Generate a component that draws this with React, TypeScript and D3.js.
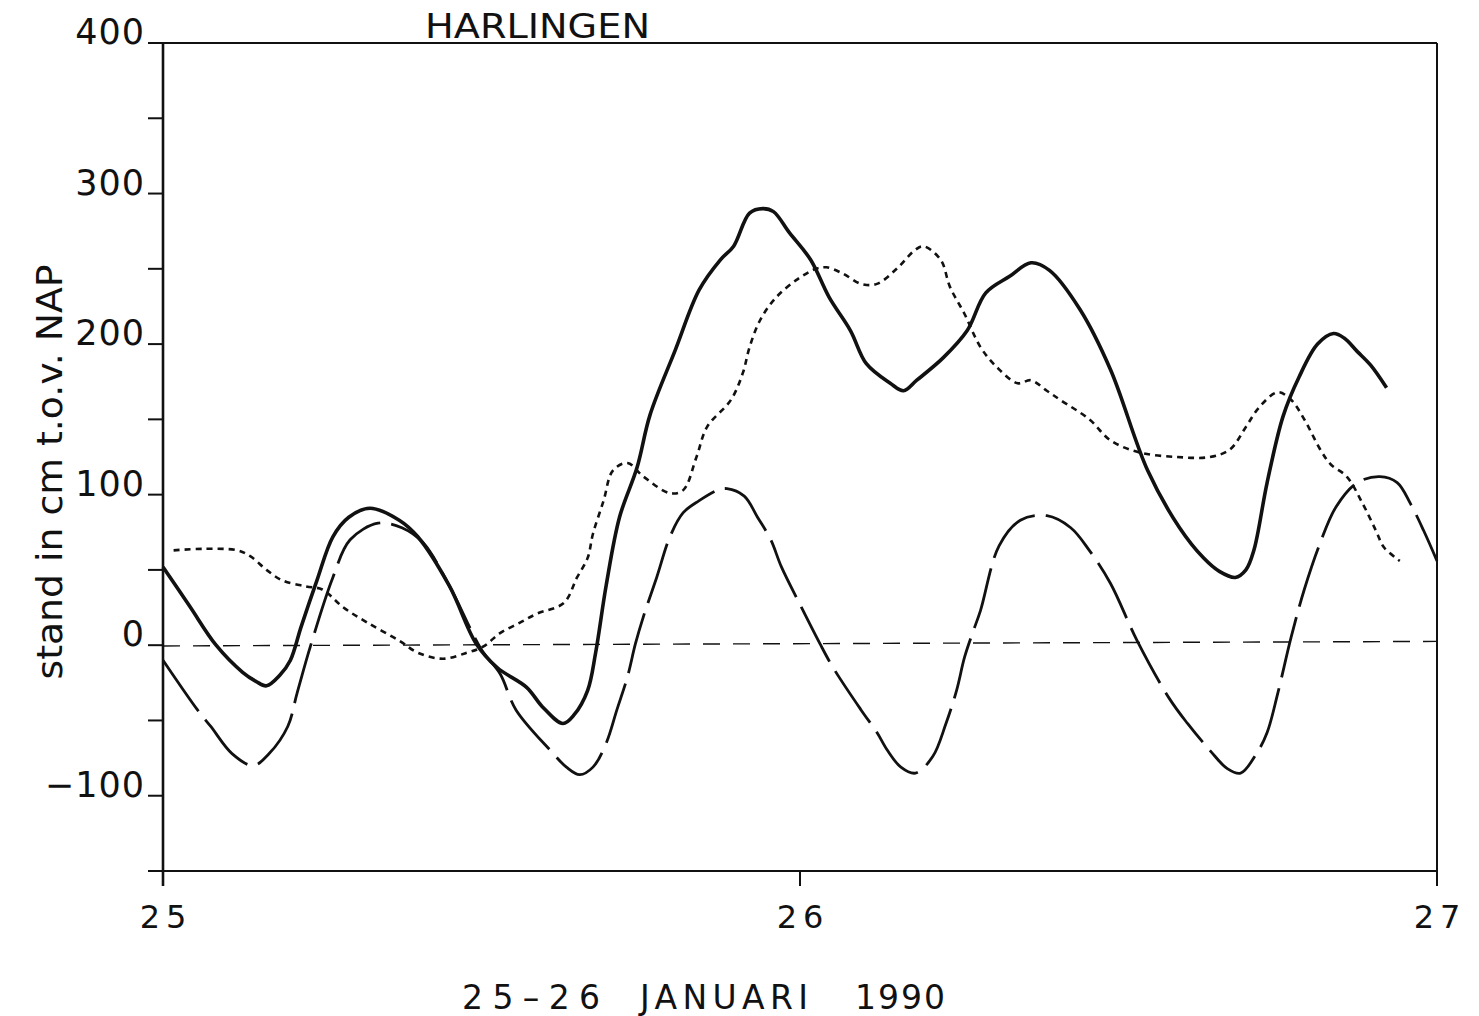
import React from 'react';
import * as d3 from 'd3';

// hours since 25 Jan 1990 00:00, water level in cm t.o.v. NAP
const measured: [number, number][] = [
  [0, 52], [1, 26], [2, 0], [3, -18], [3.5, -24], [3.9, -27], [4.4, -20], [4.8, -10], [5.2, 12], [5.8, 43],
  [6.4, 72], [7, 85], [7.8, 91], [8.9, 83], [9.6, 72], [10.8, 39], [11.8, 1], [12.6, -15], [13.7, -28],
  [14.3, -41], [15.07, -52], [15.5, -46], [16, -30], [16.3, -5], [16.7, 40], [17.2, 85], [17.86, 118],
  [18.35, 153], [19.3, 196], [20.2, 236], [21, 256], [21.5, 265], [22.1, 287], [22.6, 290], [23, 288],
  [23.6, 274], [24.4, 256], [25.1, 231], [25.9, 209], [26.5, 187], [27.4, 174], [27.9, 169], [28.4, 176],
  [29.4, 191], [30.3, 209], [31, 234], [31.9, 245], [32.7, 254], [33.4, 249], [34.55, 223], [35.7, 183],
  [37.1, 116], [38.3, 78], [39.2, 58], [39.8, 49], [40.4, 45], [40.8, 50], [41.1, 63], [41.6, 108],
  [42.2, 152], [42.8, 178], [43.5, 200], [44.1, 207], [44.5, 204], [45, 195], [45.5, 186], [46.1, 171],
];

const surge: [number, number][] = [
  [0.4, 63], [1.5, 64], [2.8, 63], [3.3, 59], [3.9, 50], [4.5, 43], [5.4, 39], [6, 37], [6.8, 25], [7.7, 15],
  [8.9, 3], [9.6, -5], [10.55, -9], [11.45, -5], [12.06, -1], [12.7, 8], [13.45, 15], [14.1, 21], [15.1, 28],
  [15.6, 45], [16, 58], [16.2, 74], [16.6, 96], [16.95, 116], [17.5, 121], [18.1, 112], [19.1, 101],
  [19.6, 103], [20.1, 125], [20.5, 145], [21.4, 163], [21.85, 181], [22.1, 198], [22.5, 216], [23.1, 231],
  [23.9, 243], [24.6, 250], [25, 251], [25.6, 247], [26.3, 240], [26.9, 240], [27.7, 251], [28.3, 262],
  [28.65, 265], [29.3, 256], [29.65, 238], [30.2, 220], [30.8, 198], [31.4, 185], [32.2, 174], [32.7, 176],
  [33.3, 169], [33.8, 163], [34.9, 150], [35.7, 136], [36.8, 128], [38.2, 125], [39.45, 125], [40.2, 130],
  [40.8, 145], [41.3, 158], [42, 168], [42.5, 163], [43, 150], [43.6, 130], [44, 120], [44.6, 112],
  [45.2, 94], [45.7, 76], [46, 65], [46.6, 56],
];

const tide: [number, number][] = [
  [0, -10], [1.3, -43], [1.8, -54], [2.6, -72], [3.4, -80], [4, -72], [4.7, -54], [5.05, -32], [5.55, -1],
  [6.4, 45], [7.05, 70], [8.1, 81], [9, 78], [9.8, 68], [10.8, 39], [12, -3], [12.7, -19], [13.3, -43],
  [14.6, -70], [15.2, -81], [15.7, -86], [16.2, -81], [16.7, -65], [17.1, -43], [17.5, -21], [17.8, 1],
  [18.1, 19], [18.6, 45], [19.1, 72], [19.6, 88], [20.2, 96], [20.9, 103], [21.25, 104], [21.9, 99],
  [22.4, 85], [22.9, 70], [23.3, 52], [24, 27], [24.75, 1], [25.25, -15], [26.3, -43], [26.9, -58],
  [27.3, -70], [27.8, -81], [28.35, -85], [29, -74], [29.5, -52], [29.9, -30], [30.2, -8], [30.5, 8],
  [30.8, 23], [31.5, 66], [32.3, 83], [33.3, 86], [34.2, 78], [34.9, 63], [35.7, 41], [36.7, 3],
  [37.9, -35], [38.6, -52], [39.45, -70], [40.1, -82], [40.6, -85], [41.2, -72], [41.6, -58], [42, -32],
  [42.5, 5], [43, 37], [43.6, 68], [44.2, 92], [45, 108], [45.85, 112], [46.5, 108], [47, 94], [47.5, 76],
  [48, 56],
];

const napLine: [number, number][] = [[0, -0.5], [48, 2.5]];

const dayTicks = [0, 24, 48];
const dayLabels = ['25', '26', '27'];
const levelTicks = [400, 350, 300, 250, 200, 150, 100, 50, 0, -50, -100, -150];
const levelLabels = [400, 300, 200, 100, 0, -100];

// x caption, written word by word: text, left edge, width
const captionWords: [string, number, number][] = [
  ['25–26', 462, 138],
  ['JANUARI', 640, 168],
  ['1990', 855, 90],
];

const font = '"DejaVu Sans", sans-serif';

export default function App() {
  const x = d3.scaleLinear().domain([0, 48]).range([163, 1437]);
  const y = d3.scaleLinear().domain([-150, 400]).range([871, 43]);

  const line = d3.line<[number, number]>()
    .x(d => x(d[0]))
    .y(d => y(d[1]))
    .curve(d3.curveCatmullRom.alpha(0.5));

  const left = x(0);
  const right = x(48);
  const top = y(400);
  const bottom = y(-150);

  return (
    <svg width={1479} height={1016} style={{ position: 'absolute', left: 0, top: 0, background: '#fff' }}>
      {/* frame */}
      <g stroke="#111" fill="none">
        <line x1={left - 15} x2={right} y1={top} y2={top} strokeWidth={2} />
        <line x1={left} x2={left} y1={top} y2={bottom + 15} strokeWidth={2.6} />
        <line x1={right} x2={right} y1={top} y2={bottom + 15} strokeWidth={2} />
        <line x1={left - 15} x2={right} y1={bottom} y2={bottom} strokeWidth={2.2} />
        {levelTicks.map(t => (
          <line key={t} x1={left - 15} x2={left} y1={y(t)} y2={y(t)} strokeWidth={2} />
        ))}
        <line x1={x(24)} x2={x(24)} y1={bottom} y2={bottom + 15} strokeWidth={2} />
      </g>

      {/* tick labels */}
      <g fontFamily={font} fontSize={35} fill="#111" textAnchor="end">
        {levelLabels.map(t => (
          <text key={t} x={left - 18} y={y(t) + 1} letterSpacing={1}>
            {t < 0 ? '\u2212' + Math.abs(t) : t}
          </text>
        ))}
      </g>
      <g fontFamily={font} fontSize={32} fill="#111" textAnchor="middle">
        {dayTicks.map((t, i) => (
          <text key={t} x={x(t) + 3} y={928} letterSpacing={6}>{dayLabels[i]}</text>
        ))}
      </g>

      {/* titles */}
      <text x={425} y={38} fontFamily={font} fontSize={33} fill="#111"
        textLength={225} lengthAdjust="spacingAndGlyphs">HARLINGEN</text>
      <g fontFamily={font} fontSize={33} fill="#111">
        {captionWords.map(([w, x0, len]) => (
          <text key={w} x={x0} y={1009} textLength={len} lengthAdjust="spacing">{w}</text>
        ))}
      </g>
      <text transform="translate(62,472) rotate(-90)" fontFamily={font} fontSize={36} fill="#111"
        textAnchor="middle" textLength={415} lengthAdjust="spacingAndGlyphs">stand in cm t.o.v. NAP</text>

      {/* series */}
      <path d={line(napLine) ?? ''} fill="none" stroke="#111" strokeWidth={1.4} strokeDasharray="17 13" />
      <path d={line(tide) ?? ''} fill="none" stroke="#111" strokeWidth={2.8} strokeDasharray="62 11" />
      <path d={line(surge) ?? ''} fill="none" stroke="#111" strokeWidth={2.6} strokeDasharray="6 5" />
      <path d={line(measured) ?? ''} fill="none" stroke="#111" strokeWidth={3.6} strokeLinejoin="round" />
    </svg>
  );
}
